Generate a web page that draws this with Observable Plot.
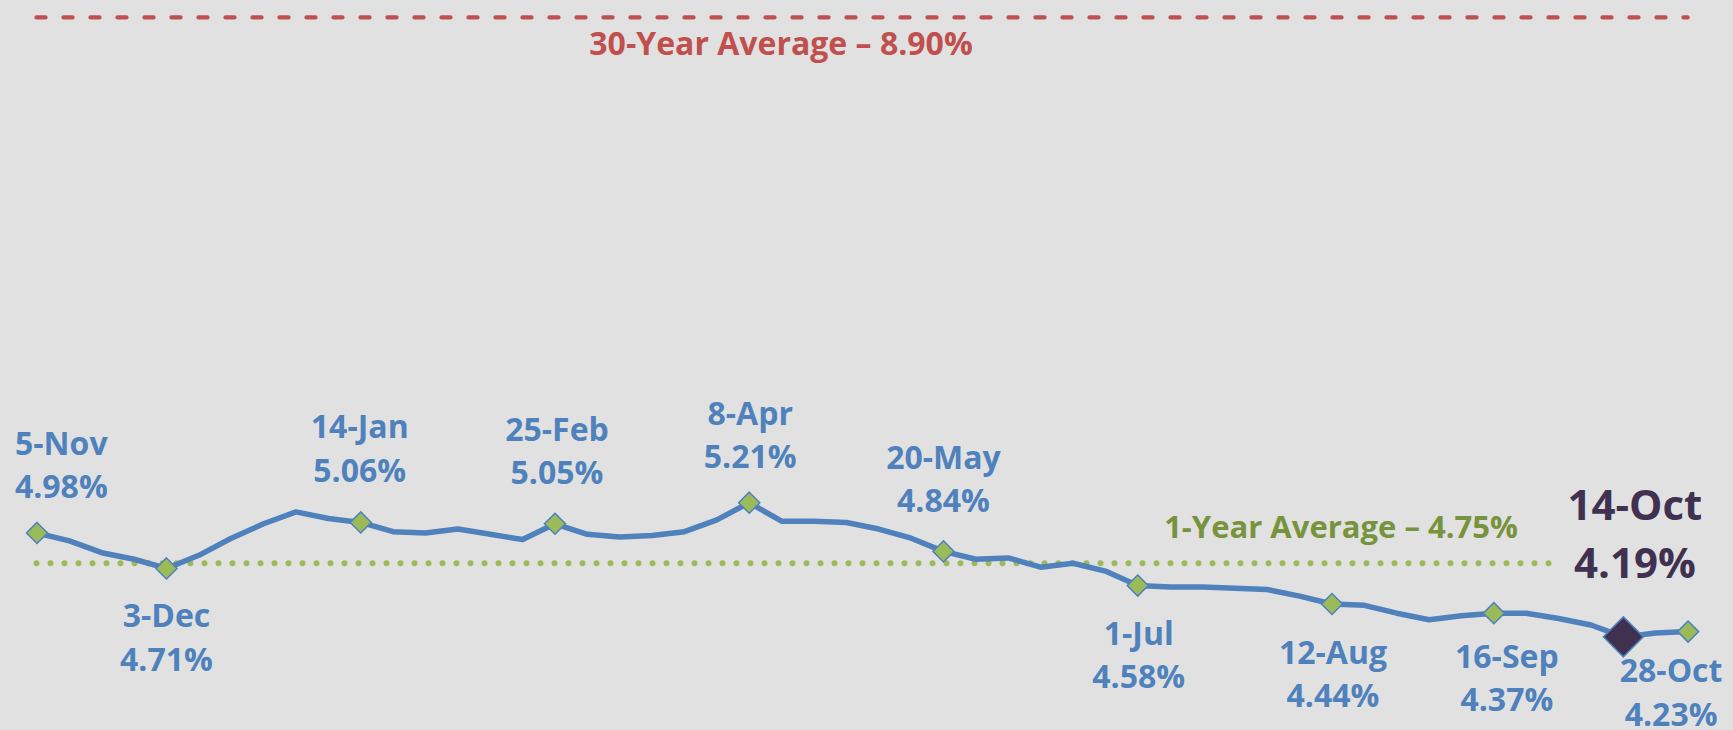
<!DOCTYPE html>
<html><head><meta charset="utf-8">
<script src="https://cdn.jsdelivr.net/npm/d3@7"></script>
<script src="https://cdn.jsdelivr.net/npm/@observablehq/plot@0.6"></script>
<style>html,body{margin:0;padding:0;background:#E1E1E1;} svg{display:block;}</style>
</head><body><div id="chart"></div>
<script>
// Weekly rate values (%), 5-Nov through 28-Oct
const rates = [4.98,4.92,4.83,4.78,4.71,4.81,4.94,5.05,5.14,5.09,5.06,4.99,4.98,5.01,4.97,4.93,5.05,4.97,4.95,4.96,
  4.99,5.08,5.21,5.07,5.07,5.06,5.01,4.94,4.84,4.78,4.79,4.72,4.75,4.69,4.58,4.57,4.57,4.56,4.55,4.50,
  4.44,4.43,4.37,4.32,4.35,4.37,4.37,4.33,4.28,4.19,4.22,4.23];
const labelWeeks = [0,4,10,16,22,28,34,40,45,49,51];
const labelNames = ["5-Nov","3-Dec","14-Jan","25-Feb","8-Apr","20-May","1-Jul","12-Aug","16-Sep","14-Oct","28-Oct"];
const highlightWeek = 49;
const avg30 = 8.90;
const avg1 = 4.75;
const avg30Label = "30-Year Average – 8.90%";
const avg1Label = "1-Year Average – 4.75%";

const weeks = rates.map((r, i) => ({i, r}));
const labels = labelWeeks.map((w, k) => ({i: w, r: rates[w], name: labelNames[k], text: labelNames[k] + "\n" + rates[w].toFixed(2) + "%"}));

// label placement (pixels relative to marker)
const offsets = [[24.3,-70.5],[0,66.6],[-1,-76.2],[2,-75.4],[1,-70],[0,-74.4],[1,66.8],[1,67.4],[13,62.7],[11.5,-106.8],[-17,58.5]];

const font = "'Open Sans', sans-serif";
const blue = "#4F81BD", green = "#9BBB59", olive = "#77933C", red = "#C0504D", dark = "#403151";

const labelMarks = labels.map((d, k) => {
  const hi = d.i === highlightWeek;
  return Plot.text([d], {x: "i", y: "r", text: "text", dx: offsets[k][0], dy: offsets[k][1],
    fill: hi ? dark : blue, fontSize: hi ? 42 : 32, fontWeight: "bold", fontFamily: font,
    lineHeight: hi ? 58.3 / 42 : 43.3 / 32, textAnchor: "middle"});
});

const plot = Plot.plot({
  width: 1733, height: 730,
  marginLeft: 36.5, marginRight: 45.4, marginTop: 3.8, marginBottom: 2.9,
  x: {type: "linear", domain: [0, rates.length - 1], axis: null},
  y: {domain: [3.5, 9.0], axis: null},
  style: {background: "#E1E1E1", overflow: "visible"},
  marks: [
    Plot.ruleY([avg30], {x1: 0, x2: rates.length - 1, stroke: red, strokeWidth: 4.3, strokeDasharray: "9,18", strokeLinecap: "round"}),
    Plot.text([avg30], {y: d => d, frameAnchor: "left", dx: 744, dy: 27.6, text: () => avg30Label, fill: red, fontSize: 32, fontWeight: "bold", fontFamily: font, textAnchor: "middle"}),
    Plot.ruleY([avg1], {x1: 0, x2: highlightWeek - 2, stroke: green, strokeWidth: 6, strokeDasharray: "0,14", strokeLinecap: "round"}),
    Plot.text([avg1], {y: d => d, frameAnchor: "left", dx: 1304, dy: -35.3, text: () => avg1Label, fill: olive, fontSize: 31, fontWeight: "bold", fontFamily: font, textAnchor: "middle"}),
    Plot.line(weeks, {x: "i", y: "r", stroke: blue, strokeWidth: 5.5, strokeLinejoin: "round"}),
    Plot.dot(labels.filter(d => d.i !== highlightWeek), {x: "i", y: "r", symbol: "diamond2", r: 9.5, fill: green, stroke: blue, strokeWidth: 1.5}),
    Plot.dot(labels.filter(d => d.i === highlightWeek), {x: "i", y: "r", symbol: "diamond2", r: 18, fill: dark, stroke: blue, strokeWidth: 1.5}),
    ...labelMarks
  ]
});
document.getElementById("chart").appendChild(plot);
</script>
</body></html>
